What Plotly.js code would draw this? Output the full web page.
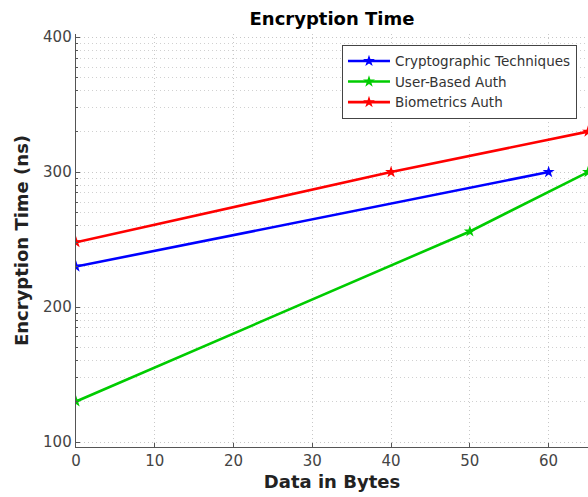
<!DOCTYPE html>
<html>
<head>
<meta charset="utf-8">
<script src="https://cdn.plot.ly/plotly-3.0.1.min.js"></script>
<style>html,body{margin:0;padding:0;background:#fff;}#chart{width:588px;height:497px;}</style>
</head>
<body>
<div id="chart"></div>
<script>
// Data
const cryptoX = [0, 60];
const cryptoY = [230, 300];
const userX = [0, 50, 65];
const userY = [130, 256, 300];
const bioX = [0, 40, 65];
const bioY = [248, 300, 330];
const seriesNames = ["Cryptographic Techniques", "User-Based Auth", "Biometrics Auth"];
const xTicks = [0, 10, 20, 30, 40, 50, 60];
const yTicks = [100, 200, 300, 400];

// minor grid pattern within each major interval (as drawn by the original tool)
const yMinor = [];
for (let i = 0; i < yTicks.length - 1; i++) {
  const a = yTicks[i], step = yTicks[i + 1] - yTicks[i];
  for (let k = 2; k <= 9; k++) yMinor.push(a + step * Math.log10(k));
}

const font = "DejaVu Sans, Liberation Sans, sans-serif";
const mk = (x, y, name, color) => ({
  x: x, y: y, name: name, type: 'scatter', mode: 'lines+markers',
  line: {color: color, width: 2.6},
  marker: {symbol: 'star', size: 9, color: color},
  cliponaxis: true
});

const traces = [
  mk(cryptoX, cryptoY, seriesNames[0], '#0000ff'),
  mk(userX, userY, seriesNames[1], '#00cc00'),
  mk(bioX, bioY, seriesNames[2], '#ff0000')
];

const dots = '1px,3px';
const layout = {
  width: 588, height: 497,
  margin: {l: 75.7, r: 0, t: 34.3, b: 50.3, pad: 0},
  paper_bgcolor: '#fff', plot_bgcolor: '#fff',
  font: {family: font, color: '#444'},
  title: {text: 'Encryption Time', font: {family: font, size: 18, color: '#000', weight: 'bold'},
          x: 0.5, xref: 'paper', xanchor: 'center', y: 0.963, yanchor: 'middle'},
  showlegend: true,
  legend: {x: 0.9785, xanchor: 'right', y: 0.974, yanchor: 'top',
           bgcolor: '#fff', bordercolor: '#444', borderwidth: 1,
           font: {family: font, size: 13.5, color: '#333'},
           itemwidth: 42, tracegroupgap: 0},
  xaxis: {
    range: [0, 65.0], tickvals: xTicks, ticktext: xTicks.map(String),
    showgrid: true, gridcolor: '#c8c8c8', griddash: dots, gridwidth: 1,
    zeroline: false, showline: true, linecolor: '#555', linewidth: 1.3,
    ticks: 'inside', ticklen: 4, tickcolor: '#555',
    tickfont: {family: font, size: 15, color: '#444'},
    title: {text: 'Data in Bytes', font: {family: font, size: 18, color: '#222', weight: 'bold'}, standoff: 6}
  },
  yaxis: {
    range: [96.3, 402.3], tickvals: yTicks, ticktext: yTicks.map(String),
    showgrid: true, gridcolor: '#c8c8c8', griddash: dots, gridwidth: 1,
    zeroline: false, showline: true, linecolor: '#555', linewidth: 1.3,
    ticks: 'inside', ticklen: 4, tickcolor: '#555',
    tickfont: {family: font, size: 15, color: '#444'},
    minor: {tickmode: 'array', tickvals: yMinor, showgrid: true, gridcolor: '#d0d0d0', griddash: dots, gridwidth: 1, ticks: 'inside', ticklen: 2, tickcolor: '#555'},
    title: {text: 'Encryption Time (ns)', font: {family: font, size: 18, color: '#222', weight: 'bold'}, standoff: 9}
  }
};

Plotly.newPlot('chart', traces, layout, {displayModeBar: false, staticPlot: true});
</script>
</body>
</html>
